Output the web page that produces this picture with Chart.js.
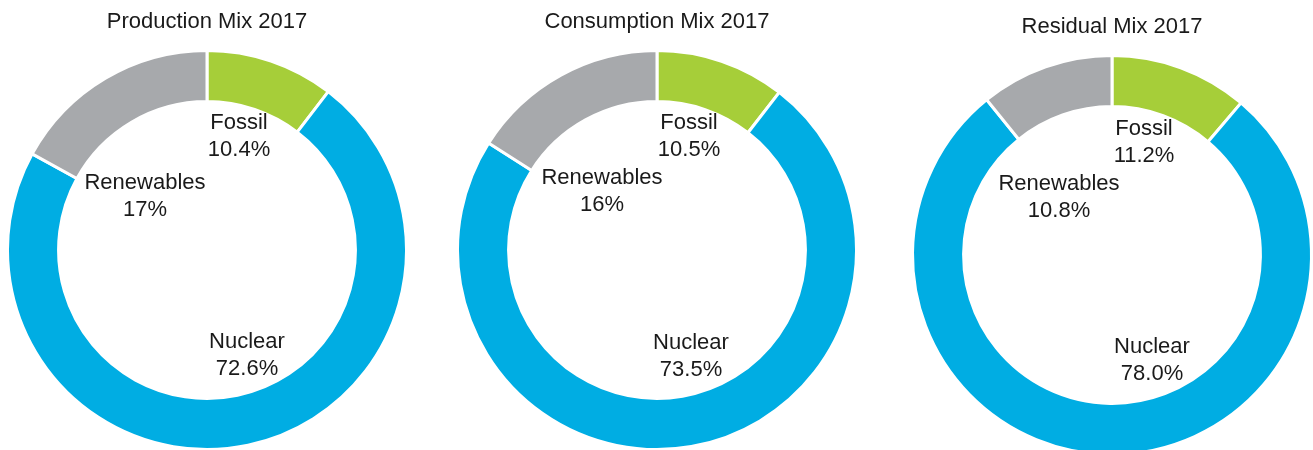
<!DOCTYPE html>
<html>
<head>
<meta charset="utf-8">
<script src="https://cdn.jsdelivr.net/npm/chart.js@4/dist/chart.umd.min.js"></script>
<style>
  html, body { margin: 0; padding: 0; background: #fff; overflow: hidden; width: 1313px; height: 450px; }
  .wrap { position: absolute; width: 414px; height: 454px; }
</style>
</head>
<body>
<div class="wrap" id="w0" style="left:0px;top:0px;"><canvas id="c0"></canvas></div>
<div class="wrap" id="w1" style="left:450px;top:0px;"><canvas id="c1"></canvas></div>
<div class="wrap" id="w2" style="left:905px;top:5px;"><canvas id="c2"></canvas></div>
<script>
// ---- data ----
const categories = ['Fossil', 'Nuclear', 'Renewables'];
const titles = ['Production Mix 2017', 'Consumption Mix 2017', 'Residual Mix 2017'];
const production = [10.4, 72.6, 17];
const consumption = [10.5, 73.5, 16];
const residual = [11.2, 78.0, 10.8];
const productionLabels = ['10.4%', '72.6%', '17%'];
const consumptionLabels = ['10.5%', '73.5%', '16%'];
const residualLabels = ['11.2%', '78.0%', '10.8%'];

// ---- style ----
const colors = ['#a6ce39', '#00ade3', '#a7a9ac'];
const textColor = '#1a1a1a';
const fontFamily = '"Liberation Sans", Arial, sans-serif';
// label block offsets from doughnut centre, in px (per chart, per category)
const labelOffsets = [
  [[32, -114], [40, 105], [-62, -54]],
  [[32, -114], [34, 106], [-55, -59]],
  [[32, -113], [40, 105], [-53, -58]]
];

const insideLabels = {
  id: 'insideLabels',
  afterDraw(chart, args, opts) {
    const ctx = chart.ctx;
    const meta = chart.getDatasetMeta(0);
    const arc0 = meta.data[0];
    const cx = arc0.x, cy = arc0.y;
    ctx.save();
    ctx.font = '22px ' + fontFamily;
    ctx.fillStyle = textColor;
    ctx.textAlign = 'center';
    ctx.textBaseline = 'middle';
    meta.data.forEach((arc, i) => {
      const off = opts.offsets[i];
      const x = cx + off[0], y = cy + off[1];
      ctx.fillText(chart.data.labels[i], x, y - 13.5);
      ctx.fillText(opts.values[i], x, y + 13.5);
    });
    ctx.restore();
  }
};

const series = [production, consumption, residual];
const seriesLabels = [productionLabels, consumptionLabels, residualLabels];

series.forEach((vals, k) => {
  new Chart(document.getElementById('c' + k), {
    type: 'doughnut',
    data: {
      labels: categories,
      datasets: [{
        data: vals,
        backgroundColor: colors,
        borderColor: '#ffffff',
        borderWidth: 3,
        hoverBorderWidth: 3,
        borderJoinStyle: 'miter',
        hoverOffset: 0
      }]
    },
    options: {
      responsive: true,
      maintainAspectRatio: false,
      animation: false,
      cutout: '74.4%',
      radius: 199.5,
      layout: { padding: { top: 0, bottom: 2, left: 0, right: 0 } },
      plugins: {
        legend: { display: false },
        tooltip: { enabled: false },
        title: {
          display: true,
          text: titles[k],
          color: textColor,
          font: { family: fontFamily, size: 22, weight: 'normal', lineHeight: 1.2 },
          padding: { top: 8.5, bottom: 13.1 }
        },
        insideLabels: { offsets: labelOffsets[k], values: seriesLabels[k] }
      }
    },
    plugins: [insideLabels]
  });
});
</script>
</body>
</html>
